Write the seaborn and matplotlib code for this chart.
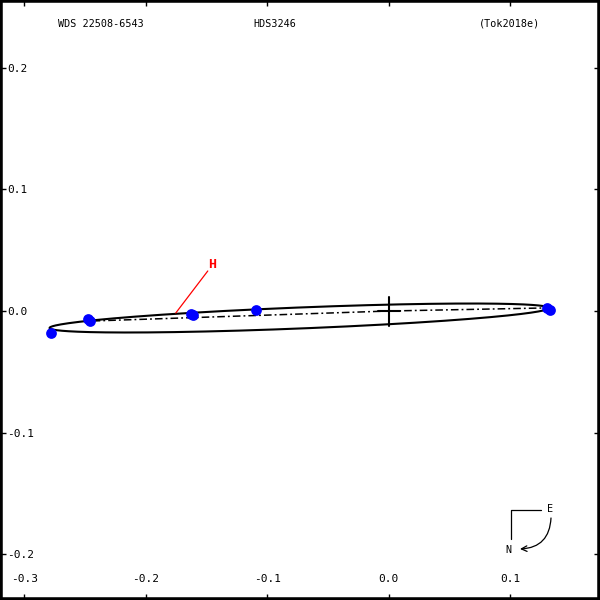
import numpy as np
import pandas as pd
import matplotlib
matplotlib.use("Agg")
import matplotlib.pyplot as plt
import seaborn as sns

# ---- data ----
obs_x = [-0.2777, -0.2477, -0.2461, -0.1630, -0.1613, -0.1089, 0.1300, 0.1325]
obs_y = [-0.0183, -0.0066, -0.0082, -0.0025, -0.0033, 0.0012, 0.0025, 0.0008]

# orbit ellipse (apparent): center, semi-axes, position angle (deg)
ell_center = (-0.0737, -0.00575)
ell_a = 0.2055
ell_b = 0.00863
ell_theta = 2.29

# line of nodes
nodes_x = [-0.2436, 0.0, 0.128]
nodes_y = [-0.0082, 0.0, 0.0025]

# H marker (periastron label line)
h_line_x = [-0.1752, -0.1489]
h_line_y = [-0.0016, 0.0329]
h_text_pos = (-0.1453, 0.0382)

xticks = [-0.3, -0.2, -0.1, 0.0, 0.1]
yticks = [-0.2, -0.1, 0.0, 0.1, 0.2]
xlim = (-0.3198, 0.1737)
ylim = (-0.2375, 0.2556)

title_left = "WDS 22508-6543"
title_mid = "HDS3246"
title_right = "(Tok2018e)"

# ---- plot ----
sns.set_style("white")
plt.rcParams['font.family'] = ['DejaVu Sans Mono', 'DejaVu Sans']
plt.rcParams['axes.unicode_minus'] = False
plt.rcParams['text.color'] = 'black'

fig = plt.figure(figsize=(6, 6), dpi=100)
ax = fig.add_axes([0, 0, 1, 1])

t = np.linspace(0, 2 * np.pi, 721)
th = np.deg2rad(ell_theta)
ex = ell_center[0] + ell_a * np.cos(t) * np.cos(th) - ell_b * np.sin(t) * np.sin(th)
ey = ell_center[1] + ell_a * np.cos(t) * np.sin(th) + ell_b * np.sin(t) * np.cos(th)
ax.plot(ex, ey, color='black', lw=1.5, zorder=2)

ax.plot(nodes_x, nodes_y, color='black', lw=1.1, dashes=(5, 2, 1.2, 2), zorder=2)

# primary cross
ax.plot([0, 0], [-0.0123, 0.0115], color='black', lw=1.5, zorder=3)
ax.plot([-0.009, 0.009], [0, 0], color='black', lw=1.5, zorder=3)

df = pd.DataFrame({'x': obs_x, 'y': obs_y})
sns.scatterplot(data=df, x='x', y='y', ax=ax, color='#0000ff', s=60,
                edgecolor='#0000ff', linewidth=0, zorder=4, legend=False)

ax.plot(h_line_x, h_line_y, color='red', lw=0.9, zorder=3)
ax.text(h_text_pos[0], h_text_pos[1], 'H', color='red', fontsize=9.5,
        fontweight='bold', ha='center', va='center')

ax.set_xlim(*xlim)
ax.set_ylim(*ylim)
ax.set_xlabel('')
ax.set_ylabel('')
ax.set_xticks(xticks)
ax.set_yticks(yticks)
ax.set_xticklabels([f"{v:.1f}" for v in xticks])
ax.set_yticklabels([f"{v:.1f}" for v in yticks])
ax.tick_params(axis='x', direction='in', length=4, width=1, top=True,
               bottom=True, pad=-19, labelsize=8, colors='black')
ax.tick_params(axis='y', direction='in', length=4, width=1, left=True,
               right=True, pad=-5, labelsize=8, colors='black')
for lab in ax.get_yticklabels():
    lab.set_ha('left')

for sp in ax.spines.values():
    sp.set_visible(True)
    sp.set_color('black')
    sp.set_linewidth(4)

fs = 7.3
ax.text(58 / 600, 1 - 24 / 600, title_left, transform=ax.transAxes,
        fontsize=fs, ha='left', va='center', color='black')
ax.text(275 / 600, 1 - 24 / 600, title_mid, transform=ax.transAxes,
        fontsize=fs, ha='center', va='center', color='black')
ax.text(540 / 600, 1 - 24 / 600, title_right, transform=ax.transAxes,
        fontsize=fs, ha='right', va='center', color='black')

# compass
def fx(px):
    return px / 600
def fy(py):
    return 1 - py / 600
ax.plot([fx(511), fx(511), fx(541)], [fy(539), fy(510), fy(510)],
        transform=ax.transAxes, color='black', lw=0.9)
ax.text(fx(550), fy(509), 'E', transform=ax.transAxes, fontsize=fs,
        ha='center', va='center', color='black')
ax.text(fx(508), fy(550), 'N', transform=ax.transAxes, fontsize=fs,
        ha='center', va='center', color='black')
ax.annotate('', xy=(fx(520), fy(549)), xytext=(fx(551), fy(518)),
            xycoords='axes fraction', textcoords='axes fraction',
            arrowprops=dict(arrowstyle='->', color='black', lw=0.9,
                            connectionstyle='arc3,rad=-0.45',
                            shrinkA=0, shrinkB=0))

fig.savefig('out.png', dpi=100)
